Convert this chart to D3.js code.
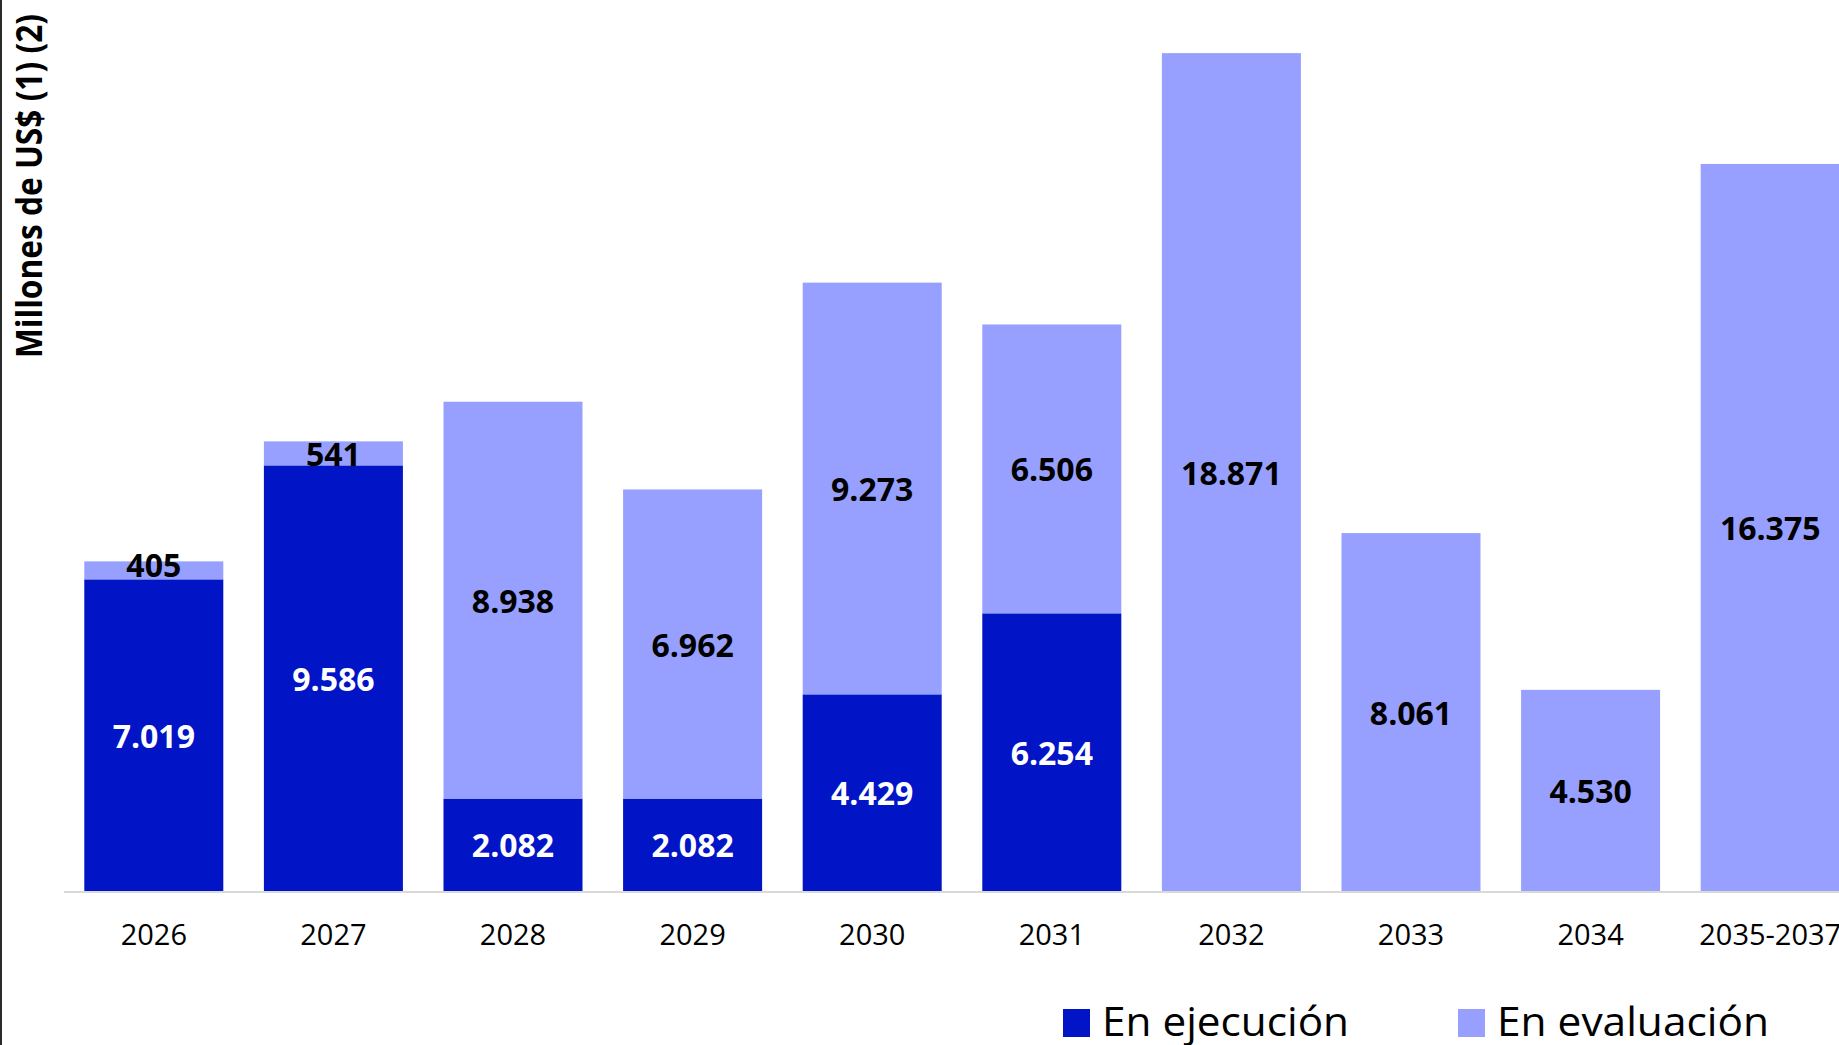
<!DOCTYPE html>
<html>
<head>
<meta charset="utf-8">
<script src="https://cdn.jsdelivr.net/npm/d3@7"></script>
<style>
  html, body { margin: 0; padding: 0; background: #fff; overflow: hidden; }
  text { font-family: "Open Sans", "Noto Sans", sans-serif; }
</style>
</head>
<body>
<svg id="chart" width="1839" height="1045"></svg>
<script>
//----------------------------------------------------------------
// Données du graphique
//----------------------------------------------------------------
const annees = ["2026", "2027", "2028", "2029", "2030", "2031", "2032", "2033", "2034", "2035-2037"];
const enEjecucion = [7019, 9586, 2082, 2082, 4429, 6254, 0, 0, 0, 0];
const enEvaluacion = [405, 541, 8938, 6962, 9273, 6506, 18871, 8061, 4530, 16375];
const series = ["En ejecución", "En evaluación"];

const couleurs = ["#0114c6", "#97a0fe"];
const couleursTexte = ["#ffffff", "#000000"];

const svg = d3.select("#chart");
const largeur = 1839, hauteur = 1045;

// échelles
const x = d3.scaleBand()
    .domain(annees)
    .range([64, 64 + 10 * 179.6])
    .paddingInner(0.226)
    .paddingOuter(0.113);

const y = d3.scaleLinear()
    .domain([0, 20000])
    .range([891, 3]);

const fmt = v => d3.format(",")(v).replace(/,/g, ".");

// empilement
const lignes = annees.map((a, i) => ({annee: a, "En ejecución": enEjecucion[i], "En evaluación": enEvaluacion[i]}));
const pile = d3.stack().keys(series)(lignes);

pile.forEach(function (couche, k) {
    const g = svg.append("g");
    g.selectAll("rect")
        .data(couche.filter(d => d[1] > d[0]))
        .join("rect")
        .attr("x", d => x(d.data.annee))
        .attr("width", x.bandwidth())
        .attr("y", d => y(d[1]))
        .attr("height", d => y(d[0]) - y(d[1]))
        .attr("fill", couleurs[k]);

    // petits segments : l'étiquette remonte un peu
    g.selectAll("text")
        .data(couche.filter(d => d[1] > d[0]))
        .join("text")
        .attr("x", d => x(d.data.annee) + x.bandwidth() / 2)
        .attr("y", d => {
            const h = y(d[0]) - y(d[1]);
            return (y(d[0]) + y(d[1])) / 2 - (h < 20 ? 6 : 0);
        })
        .attr("text-anchor", "middle")
        .attr("dominant-baseline", "central")
        .attr("font-size", 32)
        .attr("font-weight", "bold")
        .attr("fill", couleursTexte[k])
        .text(d => fmt(d[1] - d[0]));
});

// axe des x
const axeX = svg.append("g")
    .attr("transform", "translate(0,892)")
    .call(d3.axisBottom(x).tickSize(0).tickPadding(0));
axeX.select(".domain")
    .attr("d", "M64,0H" + largeur)
    .attr("stroke", "#d9d9d9")
    .attr("stroke-width", 2);
axeX.selectAll(".tick text")
    .attr("y", 53)
    .attr("dy", null)
    .attr("font-size", 29)
    .attr("font-family", "'Open Sans', sans-serif")
    .attr("fill", "#000");

// titre de l'axe des y
svg.append("text")
    .attr("transform", "translate(42,186) rotate(-90)")
    .attr("text-anchor", "middle")
    .attr("font-size", 35)
    .attr("font-weight", "bold")
    .attr("textLength", 344)
    .attr("lengthAdjust", "spacingAndGlyphs")
    .text("Millones de US$ (1) (2)");

// légende
const legende = [
    {nom: series[0], x: 1063, tx: 1102, lg: 247},
    {nom: series[1], x: 1458, tx: 1497, lg: 272}
];
legende.forEach(function (d, i) {
    svg.append("rect")
        .attr("x", d.x).attr("y", 1009)
        .attr("width", 27).attr("height", 28)
        .attr("fill", couleurs[i]);
    svg.append("text")
        .attr("x", d.tx).attr("y", 1036)
        .attr("font-size", 40)
        .attr("textLength", d.lg)
        .attr("lengthAdjust", "spacingAndGlyphs")
        .text(d.nom);
});

// bordure gauche
svg.append("line")
    .attr("x1", 1).attr("x2", 1)
    .attr("y1", 0).attr("y2", hauteur)
    .attr("stroke", "#2a2a2a")
    .attr("stroke-width", 2);
</script>
</body>
</html>
